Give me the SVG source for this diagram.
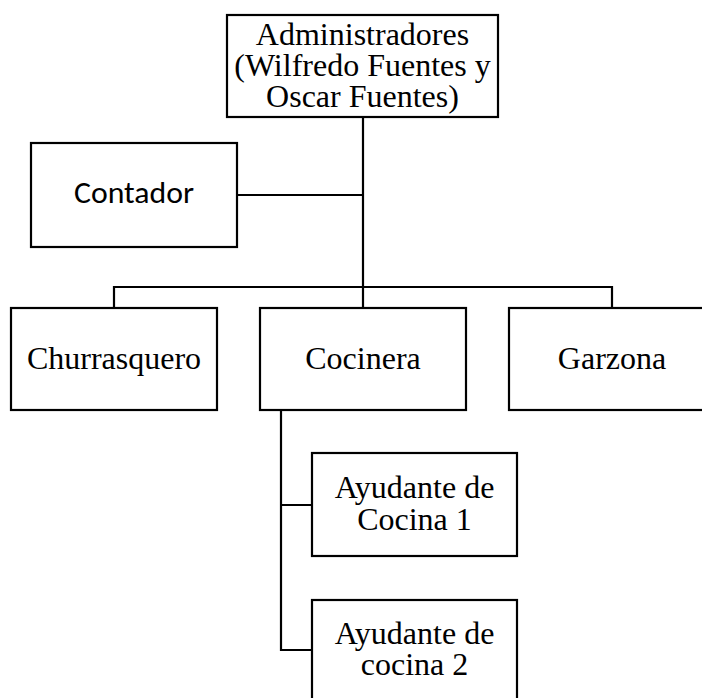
<svg xmlns="http://www.w3.org/2000/svg" width="702" height="698" viewBox="0 0 702 698">
<style>
.box{fill:#fff;stroke:#000;stroke-width:2.2}
.ln{fill:none;stroke:#000;stroke-width:2.2}
.t{font-family:"Liberation Serif","Times New Roman",serif;font-size:32px;fill:#000;text-anchor:middle}
.s{font-family:Carlito,Lato,"Liberation Sans",sans-serif;font-size:31px;fill:#000;text-anchor:middle}
</style>
<rect width="702" height="698" fill="#fff"/>
<g id="connectors">
<path class="ln" d="M363 117V287M237 195H363M114 308V287H612V308M363 287V308M281 410V650H312M281 505H312"/>
</g>
<g id="admin">
<rect class="box" x="227" y="15" width="271" height="102"/>
<text class="t" x="362.5" y="45">Administradores</text>
<text class="t" x="362.5" y="76">(Wilfredo Fuentes y</text>
<text class="t" x="362.5" y="107">Oscar Fuentes)</text>
</g>
<g id="contador">
<rect class="box" x="31" y="143" width="206" height="104"/>
<text class="s" x="134" y="203" textLength="120" lengthAdjust="spacingAndGlyphs">Contador</text>
</g>
<g id="churrasquero">
<rect class="box" x="11" y="308" width="206" height="102"/>
<text class="t" x="114" y="369">Churrasquero</text>
</g>
<g id="cocinera">
<rect class="box" x="260" y="308" width="206" height="102"/>
<text class="t" x="363" y="369">Cocinera</text>
</g>
<g id="garzona">
<rect class="box" x="509" y="308" width="206" height="102"/>
<text class="t" x="612" y="369">Garzona</text>
</g>
<g id="ayudante1">
<rect class="box" x="312" y="453" width="205" height="103"/>
<text class="t" x="414.5" y="498">Ayudante de</text>
<text class="t" x="414.5" y="530">Cocina 1</text>
</g>
<g id="ayudante2">
<rect class="box" x="312" y="600" width="205" height="110"/>
<text class="t" x="414.5" y="644">Ayudante de</text>
<text class="t" x="414.5" y="675">cocina 2</text>
</g>
</svg>
